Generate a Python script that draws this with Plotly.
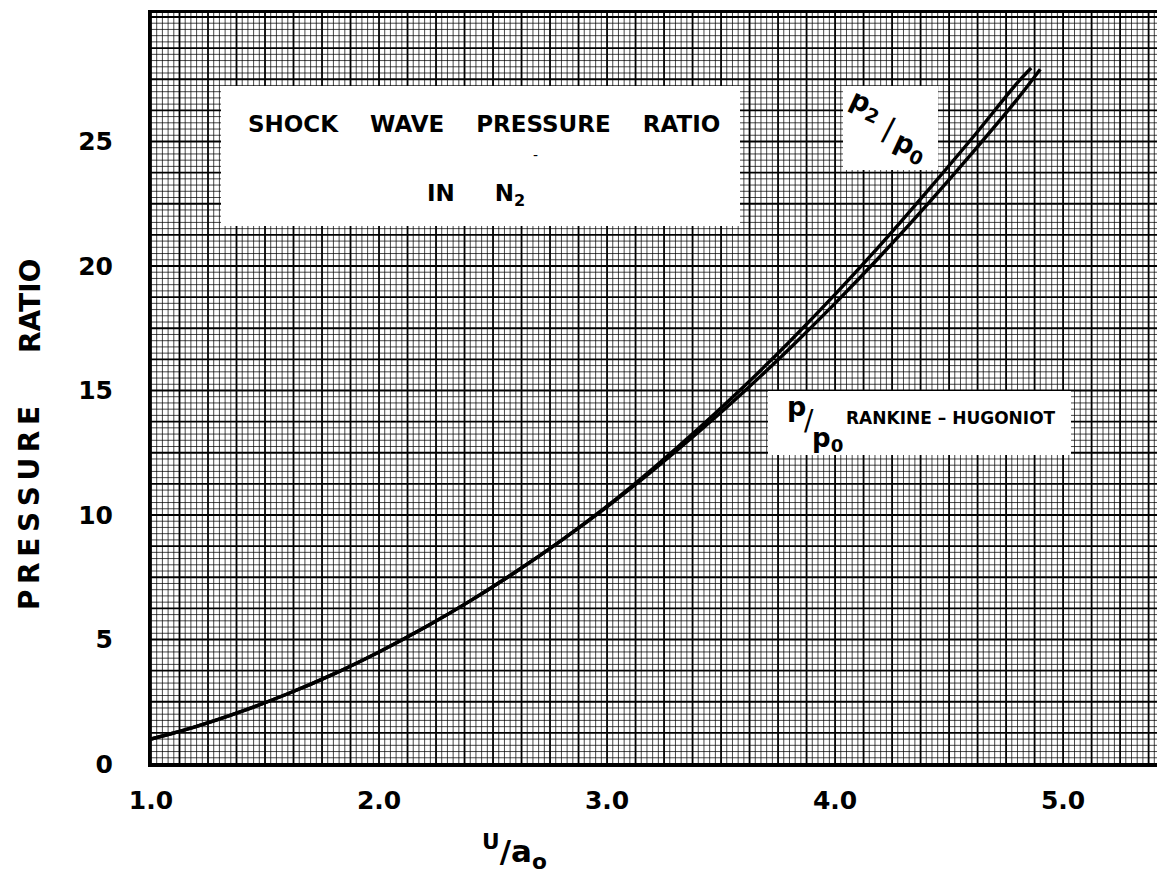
import numpy as np
import plotly.graph_objects as go

# ---------------- data ----------------
u_rh = [1.0, 1.2, 1.4, 1.6, 1.8, 2.0, 2.2, 2.4, 2.6, 2.8, 3.0, 3.2, 3.4, 3.6, 3.8, 4.0, 4.2, 4.4, 4.6, 4.8, 4.9]
p_rh = [1.0, 1.51, 2.12, 2.82, 3.61, 4.50, 5.48, 6.55, 7.72, 8.98, 10.33, 11.78, 13.32, 14.95, 16.68, 18.5, 20.41, 22.42, 24.52, 26.71, 27.9]

u_real = [1.0, 1.2, 1.4, 1.6, 1.8, 2.0, 2.2, 2.4, 2.6, 2.8, 3.0, 3.2, 3.4, 3.6, 3.8, 4.0, 4.2, 4.4, 4.6, 4.8, 4.86]
p_real = [1.0, 1.51, 2.12, 2.82, 3.61, 4.50, 5.48, 6.55, 7.72, 8.98, 10.36, 11.86, 13.46, 15.16, 16.96, 18.86, 20.86, 22.96, 25.12, 27.36, 27.95]

x_tick_vals = [1, 2, 3, 4, 5]
x_tick_text = ["1.0", "2.0", "3.0", "4.0", "5.0"]
y_tick_vals = [0, 5, 10, 15, 20, 25]
y_tick_text = ["0", "5", "10", "15", "20", "25"]

# ---------------- layout geometry ----------------
W, H = 1165, 872
ML, MR, MT, MB = 143, 0, 5, 116
X0, X1 = 1.0, 5.482
Y0, Y1 = 0.0, 30.16
PW = W - ML - MR
PH = H - MT - MB

def px2x(px):
    return X0 + (px - ML) / PW * (X1 - X0)

def py2y(py):
    return Y0 + (H - MB - py) / PH * (Y1 - Y0)

FONT = "DejaVu Sans"

shapes = []
# graph-paper grid
xmin_lines = np.arange(1.0, 5.5, 0.025)
for i, v in enumerate(xmin_lines):
    major = (i % 5 == 0)
    shapes.append(dict(type="line", xref="x", yref="paper", x0=v, x1=v, y0=0, y1=1,
                       layer="below",
                       line=dict(color="#000000" if major else "rgba(0,0,0,0.72)",
                                 width=1.8 if major else 1)))
ymin_lines = np.arange(0.0, 30.3, 0.25)
for i, v in enumerate(ymin_lines):
    major = (i % 5 == 0)
    shapes.append(dict(type="line", xref="paper", yref="y", x0=0, x1=1, y0=v, y1=v,
                       layer="below",
                       line=dict(color="#000000" if major else "rgba(0,0,0,0.72)",
                                 width=1.8 if major else 1)))

# white label boxes
def box(x0p, y0p, x1p, y1p):
    return dict(type="rect", xref="x", yref="y",
                x0=px2x(x0p), x1=px2x(x1p), y0=py2y(y1p), y1=py2y(y0p),
                fillcolor="white", line=dict(width=0), layer="above")

shapes.append(box(213, 78, 732, 218))
shapes.append(box(835, 78, 930, 162))
shapes.append(box(760, 383, 1063, 447))

fig = go.Figure()
fig.add_trace(go.Scatter(x=u_rh, y=p_rh, mode="lines", line=dict(color="black", width=3.4, shape="spline"),
                         showlegend=False, hoverinfo="skip"))
fig.add_trace(go.Scatter(x=u_real, y=p_real, mode="lines", line=dict(color="black", width=3.4, shape="spline"),
                         showlegend=False, hoverinfo="skip"))

def ann(text, xp, yp, size, angle=0, **kw):
    return dict(text=text, xref="paper", yref="paper",
                x=(xp - ML) / PW, y=(H - MB - yp) / PH,
                xanchor="center", yanchor="middle", showarrow=False,
                textangle=angle, font=dict(family=FONT, size=size, color="black"), **kw)

NB = "\u00a0"
TS = "\u2009"
annotations = [
    ann("<b>SHOCK" + NB * 4 + "WAVE" + NB * 4 + "PRESSURE" + NB * 4 + "RATIO</b>", 476, 116, 23),
    ann("-", 527, 147, 14),
    ann("<b>IN" + NB * 5 + "N<sub>2</sub></b>", 468, 187, 23),
    ann("<b>p<sub>2</sub></b>", 858, 97, 27, angle=25),
    ann("/", 880, 121, 32, angle=10),
    ann("<b>p<sub>0</sub></b>", 902, 139, 27, angle=25),
    ann("<b>p</b>", 788, 399, 27),
    ann("/", 801, 412, 28),
    ann("<b>p<sub>0</sub></b>", 819, 431, 26),
    ann("<b>RANKINE – HUGONIOT</b>", 943, 410, 17),
    ann("<b>RATIO</b>", 22, 298, 28, angle=-90),
    ann("<b>" + TS.join("PRESSURE") + "</b>", 22, 500, 28, angle=-90),
    ann("<b><sup>U</sup>/a<sub>o</sub></b>", 506, 843, 31),
]

fig.update_layout(
    width=W, height=H,
    margin=dict(l=ML, r=MR, t=MT, b=MB, pad=0),
    paper_bgcolor="white", plot_bgcolor="white",
    shapes=shapes, annotations=annotations,
    xaxis=dict(range=[X0, X1], showgrid=False, zeroline=False,
               tickmode="array", tickvals=x_tick_vals, ticktext=["<b>" + t + "</b>" for t in x_tick_text],
               ticks="", ticklabelstandoff=12,
               tickfont=dict(family=FONT, size=25, color="black"),
               showline=True, linecolor="black", linewidth=3, mirror=True),
    yaxis=dict(range=[Y0, Y1], showgrid=False, zeroline=False,
               tickmode="array", tickvals=y_tick_vals, ticktext=["<b>" + t + "</b>" for t in y_tick_text],
               ticks="", ticklabelstandoff=30,
               tickfont=dict(family=FONT, size=25, color="black"),
               showline=True, linecolor="black", linewidth=3, mirror=False),
    showlegend=False,
)

fig.write_html("out.html")
